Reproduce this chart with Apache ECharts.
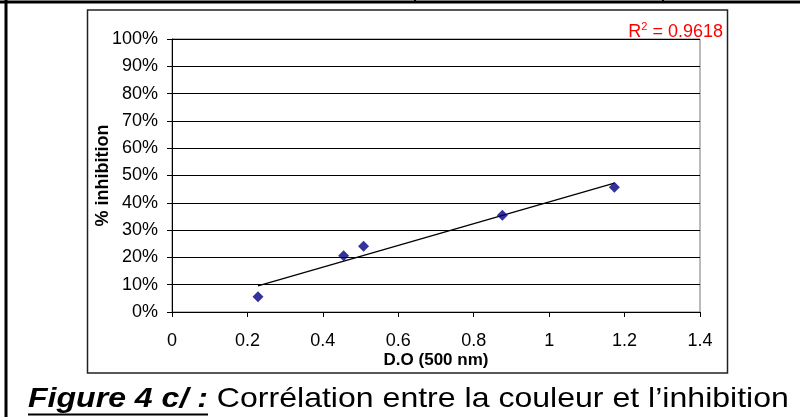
<!DOCTYPE html>
<html>
<head>
<meta charset="utf-8">
<script src="https://cdn.jsdelivr.net/npm/echarts@6/dist/echarts.min.js"></script>
<style>
  html, body { margin: 0; padding: 0; background: #fff; }
  #chart { width: 800px; height: 417px; }
</style>
</head>
<body>
<div id="chart"></div>
<script>
// D.O (500 nm) and % inhibition
var doValues = [0.228, 0.455, 0.508, 0.876, 1.173];
var inhibition = [0.056, 0.206, 0.241, 0.354, 0.457];
var r2Value = '0.9618';

var FONT = '"Liberation Sans", Arial, sans-serif';

var chart = echarts.init(document.getElementById('chart'), null, { renderer: 'canvas' });

// points for the scatter
var points = doValues.map(function (x, i) { return [x, inhibition[i]]; });

// linear trend (least squares), drawn over the data range
function linearFit(xs, ys) {
  var n = xs.length, mx = 0, my = 0;
  for (var i = 0; i < n; i++) { mx += xs[i]; my += ys[i]; }
  mx /= n; my /= n;
  var sxy = 0, sxx = 0;
  for (var j = 0; j < n; j++) {
    sxy += (xs[j] - mx) * (ys[j] - my);
    sxx += (xs[j] - mx) * (xs[j] - mx);
  }
  var slope = sxy / sxx;
  return { slope: slope, intercept: my - slope * mx };
}
var fit = linearFit(doValues, inhibition);
var xMin = Math.min.apply(null, doValues);
var xMax = Math.max.apply(null, doValues);
var trend = [
  [xMin, fit.intercept + fit.slope * xMin],
  [xMax, fit.intercept + fit.slope * xMax]
];

var option = {
  backgroundColor: '#fff',
  animation: false,
  textStyle: { fontFamily: FONT },
  grid: {
    left: 172, right: 100, top: 39, bottom: 105,
    show: true, borderColor: '#777', borderWidth: 1,
    outerBoundsMode: 'none'
  },
  xAxis: {
    type: 'value',
    min: 0, max: 1.4, interval: 0.2,
    name: 'D.O (500 nm)',
    nameLocation: 'middle',
    nameGap: 40,
    nameMoveOverlap: false,
    nameTextStyle: { fontFamily: FONT, fontSize: 17, fontWeight: 'bold', color: '#000' },
    axisLine: { show: true, onZero: false, lineStyle: { color: '#000', width: 1 } },
    axisTick: { show: true, inside: false, length: 5, lineStyle: { color: '#000' } },
    axisLabel: { fontFamily: FONT, fontSize: 18, color: '#000', margin: 20 },
    splitLine: { show: false }
  },
  yAxis: {
    type: 'value',
    min: 0, max: 1, interval: 0.1,
    name: '% inhibition',
    nameLocation: 'middle',
    nameGap: 60,
    nameMoveOverlap: false,
    nameRotate: 90,
    nameTextStyle: { fontFamily: FONT, fontSize: 18, fontWeight: 'bold', color: '#000' },
    axisLine: { show: true, onZero: false, lineStyle: { color: '#000', width: 1 } },
    axisTick: { show: true, inside: false, length: 5, lineStyle: { color: '#000' } },
    axisLabel: {
      fontFamily: FONT, fontSize: 18, color: '#000', margin: 14,
      formatter: function (v) { return Math.round(v * 100) + '%'; }
    },
    splitLine: { show: true, lineStyle: { color: '#000', width: 1 } }
  },
  series: [
    {
      name: 'trend',
      type: 'line',
      data: trend,
      symbol: 'none',
      lineStyle: { color: '#000', width: 1.3 },
      z: 2
    },
    {
      name: 'inhibition',
      type: 'scatter',
      data: points,
      symbol: 'diamond',
      symbolSize: 11,
      itemStyle: { color: '#000080' },
      z: 3
    }
  ],
  graphic: [
    // page frame around the figure
    { type: 'line', shape: { x1: 0, y1: 2, x2: 800, y2: 2 }, style: { stroke: '#000', lineWidth: 3 } },
    { type: 'line', shape: { x1: 6, y1: 0, x2: 6, y2: 417 }, style: { stroke: '#000', lineWidth: 3 } },
    { type: 'line', shape: { x1: 415, y1: 0, x2: 415, y2: 3 }, style: { stroke: '#000', lineWidth: 2 } },
    { type: 'line', shape: { x1: 663, y1: 0, x2: 663, y2: 3 }, style: { stroke: '#000', lineWidth: 2 } },
    // chart area box
    {
      type: 'rect',
      shape: { x: 87.5, y: 10, width: 640, height: 363 },
      style: { fill: 'none', stroke: '#222', lineWidth: 1.5 }
    },
    // R squared
    {
      type: 'text',
      right: 77, top: 21,
      style: {
        text: '{r|R}{s|2}{r| = ' + r2Value + '}',
        rich: {
          r: { fontFamily: FONT, fontSize: 18, fill: '#ff0000', lineHeight: 20, verticalAlign: 'bottom' },
          s: { fontFamily: FONT, fontSize: 11, fill: '#ff0000', lineHeight: 20, verticalAlign: 'top' }
        }
      }
    },
    // caption
    {
      type: 'text',
      x: 28, y: 399,
      scaleX: 1.145,
      style: {
        text: '{b|Figure 4 c/ :}{n| Corrélation entre la couleur et l\u2019inhibition}',
        verticalAlign: 'middle',
        fill: '#000',
        rich: {
          b: { fontFamily: FONT, fontSize: 28, fontWeight: 'bold', fontStyle: 'italic', fill: '#000' },
          n: { fontFamily: FONT, fontSize: 28, fill: '#000' }
        }
      }
    },
    { type: 'line', shape: { x1: 28, y1: 414.5, x2: 208, y2: 414.5 }, style: { stroke: '#000', lineWidth: 2 } }
  ]
};

chart.setOption(option);
</script>
</body>
</html>
